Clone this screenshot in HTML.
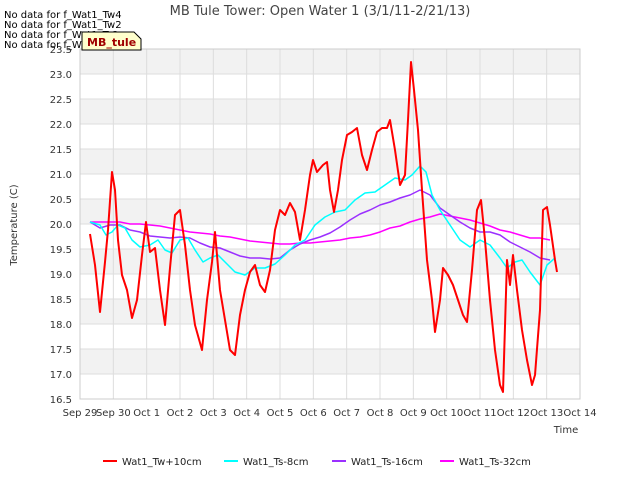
<!DOCTYPE html>
<html><head><meta charset="utf-8"><style>
body{margin:0;background:#fff;font-family:"Liberation Sans",sans-serif}
svg text{font-family:"DejaVu Sans","Liberation Sans",sans-serif}
</style></head><body>
<svg id="chart" width="640" height="480" xmlns="http://www.w3.org/2000/svg">
<rect width="640" height="480" fill="#fff"/>
<g id="bands"></g>
<g id="grid"></g>
<rect x="80" y="49" width="500" height="350" fill="none" stroke="#ccc"/>
<g id="yticks"></g><g id="xticks"></g>
<g id="series"></g>
<text x="320" y="15" text-anchor="middle" font-size="13" fill="#444">MB Tule Tower: Open Water 1 (3/1/11-2/21/13)</text>
<text transform="translate(17,225) rotate(-90)" text-anchor="middle" font-size="10" fill="#333">Temperature (C)</text>
<text x="566" y="433" text-anchor="middle" font-size="10" fill="#333">Time</text>
<g font-size="10" fill="#000">
<text x="4" y="18">No data for f_Wat1_Tw4</text>
<text x="4" y="28">No data for f_Wat1_Tw2</text>
<text x="4" y="38">No data for f_Wat1_Ts2</text>
<text x="4" y="48">No data for f_Wat1_Ts4</text>
</g>
<g>
<path d="M82,32 L134,32 L141,39 L141,50 L82,50 Z" fill="#ffffcc" stroke="#000" stroke-width="1"/>
<text x="87" y="46" font-size="11" font-weight="bold" fill="#a00000">MB_tule</text>
</g>
<g id="legend" font-size="10" fill="#222"></g>
</svg>
<script>
const redDays=[0.30,0.45,0.60,0.75,0.84,0.96,1.05,1.14,1.26,1.41,1.56,1.71,1.86,1.98,2.10,2.25,2.40,2.55,2.70,2.85,3.00,3.15,3.30,3.45,3.66,3.81,3.96,4.05,4.20,4.35,4.50,4.65,4.80,4.95,5.10,5.25,5.40,5.55,5.70,5.85,6.00,6.15,6.30,6.45,6.60,6.75,6.90,6.99,7.11,7.29,7.41,7.50,7.62,7.74,7.86,8.01,8.16,8.31,8.46,8.61,8.76,8.91,9.06,9.21,9.30,9.45,9.60,9.75,9.84,9.93,10.02,10.14,10.26,10.41,10.56,10.65,10.80,10.89,11.04,11.19,11.34,11.49,11.61,11.76,11.91,12.03,12.15,12.30,12.45,12.60,12.69,12.81,12.90,12.99,13.11,13.26,13.41,13.56,13.65,13.80,13.89,14.01,14.10,14.25,14.31];
const redVals=[19.80,19.18,18.24,19.24,19.88,21.04,20.68,19.68,18.98,18.68,18.12,18.48,19.38,20.04,19.44,19.52,18.68,17.98,19.12,20.18,20.28,19.58,18.68,17.98,17.48,18.48,19.24,19.84,18.68,18.08,17.48,17.38,18.18,18.68,19.04,19.18,18.78,18.64,19.08,19.88,20.28,20.18,20.42,20.24,19.68,20.28,20.98,21.28,21.04,21.18,21.24,20.68,20.24,20.68,21.28,21.78,21.84,21.92,21.38,21.08,21.48,21.84,21.92,21.92,22.08,21.48,20.78,20.98,22.08,23.24,22.68,21.88,20.68,19.28,18.48,17.84,18.48,19.12,18.98,18.78,18.48,18.18,18.04,19.08,20.28,20.48,19.68,18.48,17.48,16.78,16.64,19.28,18.78,19.38,18.68,17.88,17.28,16.78,16.98,18.28,20.28,20.34,19.98,19.28,19.04];
const cyanDays=[0.30,0.60,0.78,0.96,1.14,1.35,1.56,1.80,2.10,2.34,2.55,2.76,3.00,3.24,3.45,3.69,3.90,4.14,4.35,4.65,4.95,5.25,5.55,5.85,6.15,6.45,6.75,7.05,7.35,7.65,7.95,8.25,8.55,8.85,9.15,9.45,9.75,9.96,10.20,10.38,10.56,10.80,11.10,11.40,11.70,12.00,12.30,12.60,12.81,13.05,13.26,13.50,13.80,14.01,14.25];
const cyanVals=[20.04,19.98,19.78,19.84,19.98,19.92,19.68,19.54,19.58,19.68,19.48,19.42,19.68,19.72,19.48,19.24,19.32,19.38,19.24,19.04,18.98,19.12,19.12,19.20,19.38,19.58,19.68,19.98,20.14,20.24,20.28,20.48,20.62,20.64,20.78,20.92,20.88,20.98,21.16,21.04,20.58,20.28,19.98,19.68,19.54,19.68,19.58,19.32,19.12,19.24,19.28,19.04,18.78,19.18,19.32];
const purpleVals=[20.04,19.92,19.98,19.98,19.88,19.84,19.76,19.74,19.72,19.74,19.72,19.62,19.54,19.52,19.44,19.36,19.32,19.32,19.30,19.32,19.48,19.60,19.68,19.74,19.82,19.94,20.08,20.20,20.28,20.38,20.44,20.52,20.58,20.68,20.58,20.32,20.18,20.04,19.92,19.84,19.84,19.78,19.64,19.54,19.44,19.32,19.28];
const magentaVals=[20.04,20.04,20.04,20.04,20.00,20.00,19.98,19.96,19.92,19.88,19.84,19.82,19.80,19.76,19.74,19.70,19.66,19.64,19.62,19.60,19.60,19.62,19.62,19.64,19.66,19.68,19.72,19.74,19.78,19.84,19.92,19.96,20.04,20.10,20.14,20.20,20.16,20.12,20.08,20.02,19.96,19.88,19.84,19.78,19.72,19.72,19.68];
const yTicks=[16.5,17.0,17.5,18.0,18.5,19.0,19.5,20.0,20.5,21.0,21.5,22.0,22.5,23.0,23.5];
const xTickLabels=["Sep 29","Sep 30","Oct 1","Oct 2","Oct 3","Oct 4","Oct 5","Oct 6","Oct 7","Oct 8","Oct 9","Oct 10","Oct 11","Oct 12","Oct 13","Oct 14"];
const seriesNames=["Wat1_Tw+10cm","Wat1_Ts-8cm","Wat1_Ts-16cm","Wat1_Ts-32cm"];

const NS="http://www.w3.org/2000/svg";
const X0=80,X1=580,Y0=399,Y1=49,DMIN=0,DMAX=15,VMIN=16.5,VMAX=23.5;
const xs=d=>X0+(d-DMIN)/(DMAX-DMIN)*(X1-X0);
const ys=v=>Y0-(v-VMIN)/(VMAX-VMIN)*(Y0-Y1);
function mk(t,a,p){const e=document.createElementNS(NS,t);for(const k in a)e.setAttribute(k,a[k]);p.appendChild(e);return e;}
const uniDays=purpleVals.map((_,i)=>0.3+0.3*i);
const bands=document.getElementById('bands'),grid=document.getElementById('grid');
for(let v=17.0;v<23.5;v+=1.0){
 const r=mk('rect',{x:X0,y:ys(v+0.5),width:X1-X0,height:ys(v)-ys(v+0.5),fill:'#f2f2f2'},bands);
 
 
}
const yt=document.getElementById('yticks');
yTicks.forEach(v=>{
 const l=mk('line',{x1:X0,x2:X1,y1:ys(v),y2:ys(v),stroke:'#ddd'},grid);
 
 
 const t=mk('text',{x:X0-8,y:ys(v)+4,'text-anchor':'end','font-size':10,fill:'#333'},yt);
 t.textContent=v.toFixed(1);
 
 
});
const xt=document.getElementById('xticks');
xTickLabels.forEach((s,i)=>{
 const l=mk('line',{x1:xs(i),x2:xs(i),y1:Y1,y2:Y0,stroke:'#ddd'},grid);
 
 
 const t=mk('text',{x:xs(i),y:416,'text-anchor':'middle','font-size':10,fill:'#333'},xt);
 t.textContent=s;
 
 
});
const sg=document.getElementById('series');
function line(days,vals,col,name,w){
 const p=mk('polyline',{points:days.map((d,i)=>xs(d).toFixed(1)+','+ys(vals[i]).toFixed(1)).join(' '),fill:'none',stroke:col,'stroke-width':w,'stroke-linejoin':'round'},sg);
 
 
}
line(magentaVals.map((_,i)=>uniDays[i]),magentaVals,'#ff00ff','series-ts-32cm',1.5);
line(uniDays,purpleVals,'#9b30ff','series-ts-16cm',1.5);
line(cyanDays,cyanVals,'#00ffff','series-ts-8cm',1.5);
line(redDays,redVals,'#ff0000','series-tw-10cm',2);
const lg=document.getElementById('legend');
const cols=['#ff0000','#00ffff','#9b30ff','#ff00ff'],lx=[103,224,332,440];
seriesNames.forEach((n,i)=>{
 const l=mk('line',{x1:lx[i],x2:lx[i]+14,y1:461,y2:461,stroke:cols[i],'stroke-width':2},lg);
 
 
 const t=mk('text',{x:lx[i]+19,y:465,'font-size':10,fill:'#222'},lg);
 t.textContent=n;
 
 
});
</script>
</body></html>
